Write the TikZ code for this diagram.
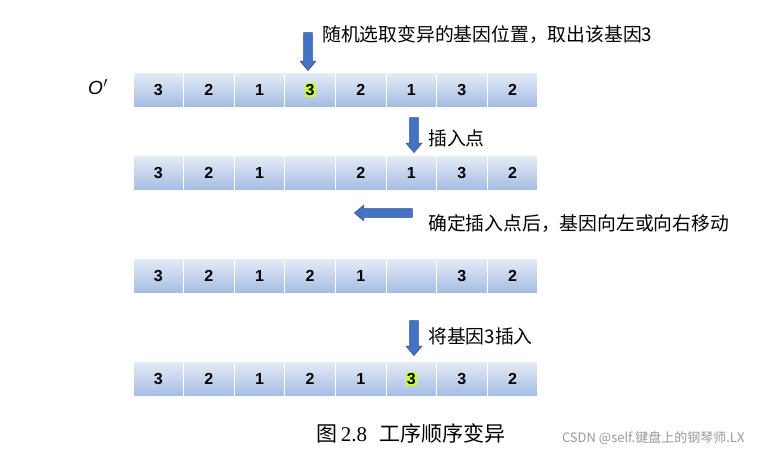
\documentclass[tikz,border=0pt]{standalone}
\usepackage{fontspec}
\setmainfont{Liberation Sans}
\newfontfamily\cjk{Noto Sans CJK SC}
\newfontfamily\serifnum{Liberation Serif}
\usetikzlibrary{shapes.arrows}
\definecolor{cellTop}{HTML}{E6ECF7}
\definecolor{cellBot}{HTML}{A3BBE2}
\definecolor{hl}{HTML}{CCFF33}
\definecolor{arrowblue}{HTML}{4472C4}
\definecolor{arrowdark}{HTML}{2F528F}
\tikzset{
  cell/.style={top color=cellTop, bottom color=cellBot, draw=white, line width=1pt,
    minimum width=50.6pt, minimum height=35pt, inner sep=0pt,
    font=\bfseries\fontsize{16}{16}\selectfont},
  hlbox/.style={fill=hl, inner sep=1pt, font=\bfseries\fontsize{16}{16}\selectfont},
  blockarrow/.style={single arrow, fill=arrowblue, draw=arrowdark, line width=0.6pt,
    inner sep=4pt, single arrow head extend=3.5pt, single arrow tip angle=80,
    minimum width=15pt},
  note/.style={anchor=west, inner sep=0pt, font=\cjk\fontsize{18.8}{19}\selectfont}
}
\begin{document}
\begin{tikzpicture}[x=1pt,y=-1pt]
\useasboundingbox[fill=white] (0,0) rectangle (761,455);
% rows
\foreach \r/\yc/\vals in {1/90/{3,2,1,,2,1,3,2}, 2/173/{3,2,1,,2,1,3,2}, 3/276/{3,2,1,2,1,,3,2}, 4/379/{3,2,1,2,1,,3,2}}{
  \foreach \v [count=\i] in \vals {
    \node[cell] (r\r c\i) at ({133+50.6*(\i-0.5)},\yc) {\v};
  }
}
\node[hlbox] (h1) at (r1c4) {3};
\node[hlbox] (h4) at (r4c6) {3};
% label O'
\node[font=\itshape\fontsize{19}{19}\selectfont] (olabel) at (98,87) {O\kern0.5pt$'$};
% arrows
\node[blockarrow, minimum height=38pt, shape border rotate=270] (a1) at (308,49) {};
\node[blockarrow, minimum height=35pt, shape border rotate=270] (a2) at (414,132.5) {};
\node[blockarrow, minimum height=58pt, shape border rotate=180] (a3) at (386,213) {};
\node[blockarrow, minimum height=35pt, shape border rotate=270] (a4) at (414,335.5) {};
% notes
\node[note] (t1) at (322,35) {随机选取变异的基因位置，取出该基因3};
\node[note] (t2) at (428,138) {插入点};
\node[note] (t3) at (428,224) {确定插入点后，基因向左或向右移动};
\node[note] (t4) at (428,336) {将基因3插入};
% caption
\node[font=\fontsize{21}{21}\selectfont] (cap) at (411,433) {{\cjk 图}\,{\serifnum 2.8}\hspace{0.6em}{\cjk 工序顺序变异}};
\node[anchor=east, text=gray!80, font=\cjk\fontsize{13}{13}\selectfont] (wm) at (748,438) {CSDN @self.键盘上的钢琴师.LX};
\end{tikzpicture}
\end{document}
